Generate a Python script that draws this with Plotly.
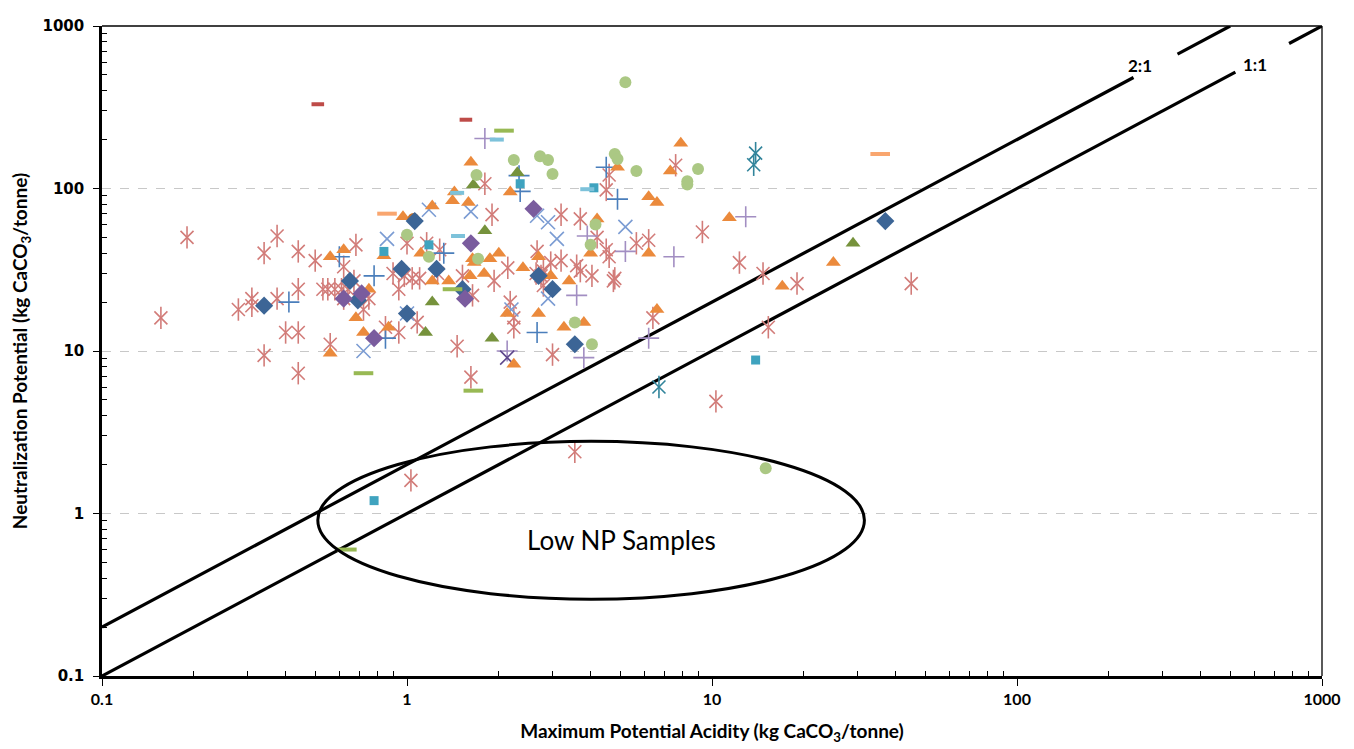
import math
import plotly.graph_objects as go

# ---------------- data (kg CaCO3/tonne) ----------------
dblue_dia_x = [0.34, 0.65, 0.69, 0.96, 1.0, 1.06, 1.25, 1.52, 2.7, 3.0, 3.55, 37]
dblue_dia_y = [19, 27, 20.5, 32, 17, 63, 32, 24, 29, 24, 11, 63]

purple_dia_x = [0.78, 0.71, 0.62, 1.62, 1.55, 2.6]
purple_dia_y = [12, 22.6, 21, 46, 21, 75]

orange_tri_x = [0.62, 0.56, 0.56, 0.68, 0.72, 0.75, 0.87, 0.84, 0.97, 1.21, 1.41, 1.59, 1.11, 1.21,
                1.37, 1.61, 1.66, 1.79, 1.62, 1.43, 2.18, 1.64, 1.87, 2.0, 2.4, 2.7, 2.96, 3.4,
                4.2, 4.0, 4.9, 6.2, 6.6, 6.2, 7.3, 7.9, 2.7, 2.13, 3.27, 3.8, 2.24, 6.6, 11.4, 25, 17]
orange_tri_y = [42, 38, 9.7, 16, 13, 24, 14, 38.5, 67, 78, 84, 82, 40, 27,
                27, 29, 35, 30, 145, 95, 95, 37, 37, 40, 32.5, 38, 29, 27,
                65, 40, 135, 89, 82, 40, 128, 190, 17, 17, 14, 15, 8.3, 18, 66, 35, 25]

olive_tri_x = [1.65, 2.3, 1.8, 1.21, 1.15, 1.9, 29]
olive_tri_y = [105, 125, 55, 20, 13, 12, 46]

lgreen_circ_x = [1.69, 2.24, 2.73, 2.9, 3.0, 4.8, 4.9, 5.65, 5.2, 9.0, 8.3, 8.3, 4.15, 4.0, 3.55,
                 4.04, 1.0, 1.18, 1.71, 15]
lgreen_circ_y = [121, 150, 158, 150, 123, 163, 152, 128, 450, 132, 111, 106, 60, 45, 15,
                 11, 52, 38, 37, 1.9]

teal_sq_x = [2.35, 4.1, 0.84, 1.18, 13.9, 0.78]
teal_sq_y = [107, 101, 41, 45, 8.8, 1.2]

blue_plus_x = [0.6, 0.41, 0.78, 0.85, 1.32, 2.33, 2.35, 4.5, 4.9, 2.67]
blue_plus_y = [38, 20, 29, 12, 40, 120, 96, 135, 86, 13]

lpurple_plus_x = [1.8, 3.9, 5.2, 7.5, 3.6, 6.2, 3.8, 2.13, 12.9]
lpurple_plus_y = [203, 51, 41, 38, 22, 12, 9.1, 10, 67]

lblue_x_x = [0.72, 0.86, 1.18, 1.62, 1.0, 2.67, 2.9, 3.1, 5.2, 2.9, 2.2]
lblue_x_y = [10, 49, 74, 72, 17, 68, 62, 49, 58, 21, 18]

dpurple_x_x = [2.13]
dpurple_x_y = [9.1]

dteal_ast_x = [13.9, 13.7, 6.7]
dteal_ast_y = [165, 140, 6.0]

red_dash_x = [0.51, 1.56]
red_dash_y = [330, 265]
green_dash_x = [2.08, 0.72, 1.65, 1.41, 0.635]
green_dash_y = [227, 7.3, 5.7, 24, 0.6]
lblue_dash_x = [1.97, 1.46, 1.47, 3.9]
lblue_dash_y = [200, 94, 51, 99]
peach_dash_x = [0.86, 35.6]
peach_dash_y = [70, 163]

brown_circ_x = [1.05]
brown_circ_y = [65]

pink_ast_x = [0.19, 0.156, 0.375, 0.34, 0.44, 0.50, 0.68, 0.62,
              0.53, 0.55, 0.58, 0.61, 0.64,
              0.44, 0.375, 0.31, 0.28, 0.31, 0.40, 0.44, 0.34, 0.44, 0.56,
              0.62, 0.75, 0.72, 0.67, 0.94, 0.9, 0.98, 1.04, 1.1, 1.16, 1.28, 1.26, 1.52, 1.64,
              0.85, 0.94, 1.08, 1.46, 1.62, 1.0,
              1.8, 1.9, 2.14, 1.93, 2.18, 2.24, 2.24, 2.67, 2.8, 2.65, 2.96, 3.2, 3.7, 3.6, 3.7,
              4.04, 4.5, 4.6, 5.65, 6.2, 4.75, 4.8, 7.6, 4.6, 4.5, 3.0, 6.4, 4.2, 3.2, 2.75, 2.8,
              9.3, 12.3, 14.7, 19, 45, 15.3, 10.3, 1.03, 3.55]
pink_ast_y = [50, 16, 51, 40, 41, 36, 45, 33,
              24, 24, 24, 24, 24,
              24, 21, 21, 18, 19, 13, 13, 9.4, 7.3, 11,
              21, 21, 18, 27, 24, 30, 29, 28, 28, 46, 42, 30, 29, 22,
              14, 13, 15, 10.7, 6.9, 46,
              107, 69, 32.5, 27, 20, 16, 14, 41, 31, 30, 35, 69, 65, 33.5, 31,
              29, 42, 38, 46, 48, 27, 28, 139, 121, 98, 9.5, 16, 50, 36, 29, 25.3,
              54, 35, 30, 26, 26, 14, 4.9, 1.6, 2.4]

# reference lines NP:MPA ratios and their label gaps
ratio_values = [2, 1]
ratio_labels = ["2:1", "1:1"]
ratio_gap_mpa = [(241, 336), (520, 780)]
axis_min, axis_max = 0.1, 1000

x_tickvals = [0.1, 1, 10, 100, 1000]
x_ticktext = ["0.1", "1", "10", "100", "1000"]
y_tickvals = [0.1, 1, 10, 100, 1000]
y_ticktext = ["0.1", "1", "10", "100", "1000"]
minor_vals = [m * 10 ** e for e in range(-1, 3) for m in range(2, 10)]

# ---------------- figure ----------------
fig = go.Figure()

for r, (g0, g1) in zip(ratio_values, ratio_gap_mpa):
    x_end = axis_max / r
    xs = [axis_min, g0, None, g1, x_end]
    ys = [axis_min * r, g0 * r, None, g1 * r, x_end * r]
    fig.add_trace(go.Scatter(x=xs, y=ys, mode="lines", line=dict(color="black", width=3.2),
                             hoverinfo="skip", showlegend=False, connectgaps=False))


def add_markers(x, y, symbol, color, size, line_w=0):
    fig.add_trace(go.Scatter(
        x=x, y=y, mode="markers", showlegend=False,
        marker=dict(symbol=symbol, color=color, size=size,
                    line=dict(width=line_w, color=color))))


PINK = "#D27C79"
add_markers(pink_ast_x, pink_ast_y, "x-thin-open", PINK, 13, 1.6)
add_markers(pink_ast_x, pink_ast_y, "line-ns-open", PINK, 16, 1.6)
add_markers(blue_plus_x, blue_plus_y, "cross-thin-open", "#4A7EBB", 15, 1.6)
add_markers(lblue_x_x, lblue_x_y, "x-thin-open", "#7B9CD3", 14, 1.6)
add_markers(lpurple_plus_x, lpurple_plus_y, "cross-thin-open", "#A28EC2", 15, 1.6)
add_markers(dpurple_x_x, dpurple_x_y, "x-thin-open", "#5E478C", 14, 1.6)
add_markers(dteal_ast_x, dteal_ast_y, "x-thin-open", "#31849B", 13, 1.6)
add_markers(dteal_ast_x, dteal_ast_y, "line-ns-open", "#31849B", 16, 1.6)
add_markers(orange_tri_x, orange_tri_y, "triangle-up", "#EB8A3C", 13)
add_markers(olive_tri_x, olive_tri_y, "triangle-up", "#76923C", 13)
add_markers(lgreen_circ_x, lgreen_circ_y, "circle", "#ABC884", 12)
add_markers(brown_circ_x, brown_circ_y, "circle", "#C0702C", 12)
add_markers(teal_sq_x, teal_sq_y, "square", "#3FA3BF", 9)
add_markers(dblue_dia_x, dblue_dia_y, "diamond", "#3C6596", 14)
add_markers(purple_dia_x, purple_dia_y, "diamond", "#7A5C9E", 14)
add_markers(red_dash_x, red_dash_y, "line-ew-open", "#BE4B48", 9, 4)
add_markers(green_dash_x, green_dash_y, "line-ew-open", "#98B954", 14, 4)
add_markers(lblue_dash_x, lblue_dash_y, "line-ew-open", "#7DC2DA", 10, 4)
add_markers(peach_dash_x, peach_dash_y, "line-ew-open", "#F9A66F", 14, 4)

fig.add_shape(type="circle", xref="x", yref="y", x0=0.51, x1=31.6, y0=0.297, y1=2.78,
              line=dict(color="black", width=3), fillcolor="rgba(0,0,0,0)", layer="above")
fig.add_shape(type="line", xref="paper", yref="paper", x0=0, x1=1, y0=1, y1=1,
              line=dict(color="black", width=1.3))
fig.add_shape(type="line", xref="paper", yref="paper", x0=1, x1=1, y0=0, y1=1,
              line=dict(color="black", width=1.3))

fig.add_annotation(x=math.log10(5.05), y=math.log10(0.69), xref="x", yref="y",
                   text="Low NP Samples", showarrow=False,
                   font=dict(family="Lato", size=26, color="black"))
label_pos = [(253, 571), (604, 580)]
for lab, (lx, ly) in zip(ratio_labels, label_pos):
    fig.add_annotation(x=math.log10(lx), y=math.log10(ly), xref="x", yref="y",
                       text="<b>" + lab + "</b>", showarrow=False,
                       font=dict(family="Lato", size=17, color="black"))

fig.update_layout(
    width=1354, height=749,
    margin=dict(l=88, r=40, t=9, b=81),
    paper_bgcolor="white", plot_bgcolor="white",
    showlegend=False,
)
fig.update_xaxes(
    type="log", range=[-1, 3], tickvals=x_tickvals,
    ticktext=["<b>" + t + "</b>" for t in x_ticktext],
    ticks="outside", ticklen=7, tickwidth=1.3, tickcolor="black",
    showline=True, linewidth=2.5, linecolor="black", showgrid=False, zeroline=False,
    minor=dict(tickmode="array", tickvals=minor_vals, ticks="inside", ticklen=5,
               tickwidth=1, tickcolor="black", showgrid=False),
    tickfont=dict(family="Lato", size=16, color="black"),
    title=dict(text="<b>Maximum Potential Acidity (kg CaCO<sub>3</sub>/tonne)</b>",
               font=dict(family="Lato", size=19, color="black"), standoff=18),
)
fig.update_yaxes(
    type="log", range=[-1, 3], tickvals=y_tickvals,
    ticktext=["<b>" + t + "</b>" for t in y_ticktext],
    ticks="outside", ticklen=6, tickwidth=1.3, tickcolor="black",
    showline=True, linewidth=2.5, linecolor="black", zeroline=False,
    showgrid=True, gridcolor="#C8C8C8", griddash="dash", gridwidth=1,
    minor=dict(tickmode="array", tickvals=minor_vals, ticks="inside", ticklen=5,
               tickwidth=1, tickcolor="black", showgrid=False),
    tickfont=dict(family="DejaVu Sans", size=15, color="black"),
    ticklabelstandoff=6,
    title=dict(text="<b>Neutralization Potential (kg CaCO<sub>3</sub>/tonne)</b>",
               font=dict(family="Lato", size=19, color="black"), standoff=12),
)

fig.write_html("out.html")
